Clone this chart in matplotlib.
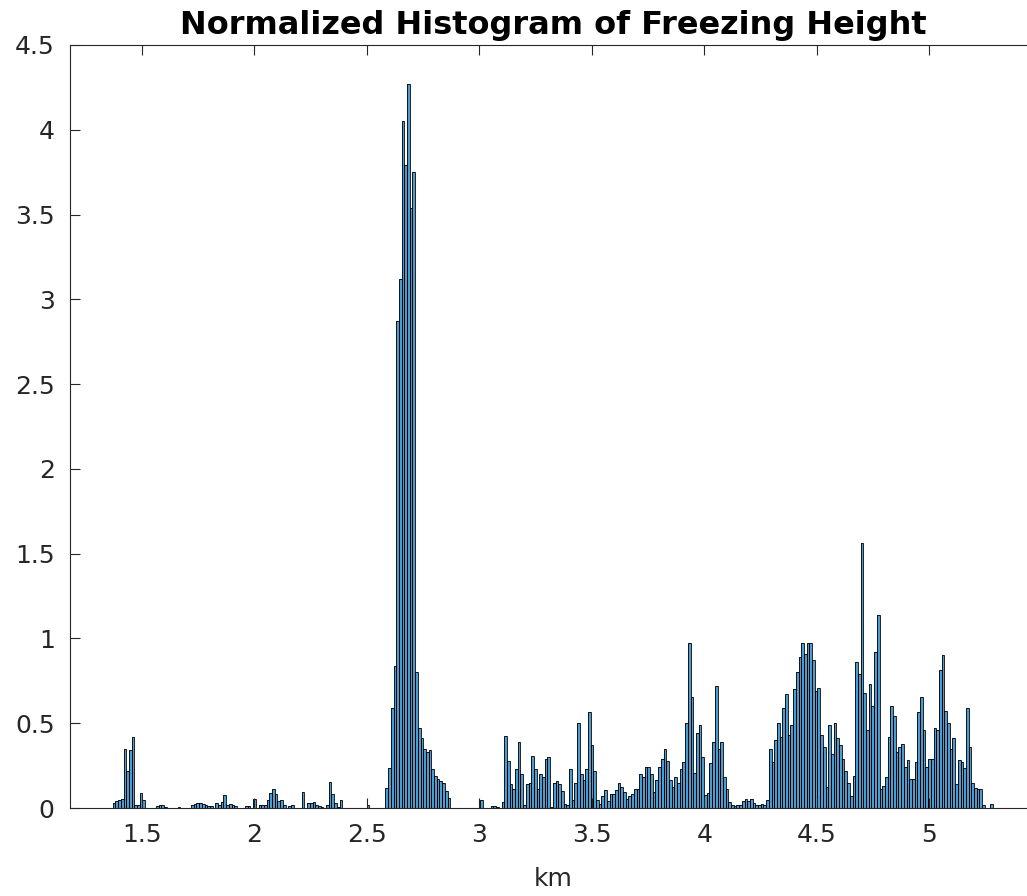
import numpy as np
import matplotlib
matplotlib.use("Agg")
import matplotlib.pyplot as plt
from matplotlib.ticker import FormatStrFormatter

# histogram bins (km)
bin_start = 1.37
bin_width = 0.012

# normalized counts, left to right
dens_low = [
    0.03, 0.04, 0.05, 0.055, 0.35, 0.22, 0.34, 0.42, 0.02, 0.02, 0.09, 0.05,
    0, 0, 0, 0, 0.01, 0.015, 0.015, 0.005, 0, 0, 0, 0, 0.008, 0, 0, 0, 0,
    0.015, 0.025, 0.03, 0.028, 0.025, 0.02, 0.01, 0.01, 0, 0.03, 0.02,
    0.035, 0.075, 0.016, 0.025, 0.02, 0.01, 0, 0, 0, 0.012, 0.012, 0, 0.055, 0,
    0.02, 0.02, 0.02, 0.05, 0.09, 0.11, 0.085, 0.04, 0.045, 0.015, 0,
    0.01, 0.02, 0, 0, 0, 0.095, 0, 0.03, 0.03, 0.035, 0.02, 0.01, 0.005, 0,
    0.02, 0.155, 0.08, 0.03, 0.006, 0.05,
    0, 0, 0, 0, 0, 0, 0, 0, 0, 0.015, 0, 0, 0, 0, 0, 0,
]
dens_peak = [
    0.12, 0.235, 0.59, 0.84, 2.87, 3.12, 4.05, 3.79, 4.27, 3.54, 3.75,
    0.8, 0.47, 0.41, 0.35, 0.33, 0.34, 0.23, 0.19, 0.17, 0.16, 0.15, 0.10, 0.06,
    0, 0, 0, 0, 0, 0, 0, 0, 0, 0, 0, 0.05, 0, 0, 0, 0.012, 0.01, 0.005, 0,
]
dens_mid = [
    0.035, 0.425, 0.275, 0.14, 0.115, 0.23, 0.39, 0.2, 0.015, 0.14, 0.145,
    0.305, 0.23, 0.11, 0.2, 0.18, 0.29, 0.30, 0.005,
    0.145, 0.16, 0.14, 0.10, 0.025, 0.02, 0.23, 0.045, 0.145, 0.5, 0.2, 0.165,
    0.23, 0.565, 0.37, 0.22, 0.05,
    0.025, 0.07, 0.105, 0.04, 0.08, 0.08, 0.105, 0.15, 0.125, 0.095, 0.055,
    0.07, 0.08, 0.115, 0.11, 0.2, 0.18, 0.24, 0.24, 0.2, 0.095, 0.165, 0.24,
    0.29, 0.35, 0.28, 0.165, 0.125, 0.18, 0.15, 0.23, 0.27, 0.5, 0.975, 0.655,
    0.205, 0.44, 0.49, 0.30, 0.075, 0.09, 0.265, 0.39, 0.72, 0.35, 0.39, 0.18,
    0.11, 0.035, 0.015, 0.01, 0.015, 0.015, 0.04, 0.053, 0.04,
    0.055, 0.03, 0.015, 0.02, 0.025, 0.02, 0.05,
]
dens_high = [
    0.35, 0.27, 0.40, 0.50, 0.42, 0.59, 0.67, 0.43, 0.49, 0.70, 0.80, 0.89,
    0.975, 0.91, 0.975, 0.975, 0.87, 0.69, 0.71, 0.43, 0.36, 0.126, 0.49, 0.32,
    0.5, 0.41, 0.37, 0.29, 0.22, 0.15, 0.07, 0.19, 0.86, 0.79, 1.56,
    0.68, 0.46, 0.73, 0.6, 0.92, 1.14, 0.11, 0.13, 0.18, 0.42, 0.6, 0.545,
    0.33, 0.36, 0.38, 0.24, 0.285, 0.17, 0.17, 0.27, 0.565, 0.655, 0.46, 0.24,
    0.29, 0.29, 0.47, 0.46, 0.815, 0.905, 0.57, 0.5, 0.35, 0.41, 0.14, 0.285,
    0.27, 0.235, 0.59, 0.36, 0.15, 0.12, 0.11, 0.11,
    0.015, 0, 0, 0.025,
]

dens = np.array(dens_low + dens_peak + dens_mid + dens_high)
centers = bin_start + bin_width * (np.arange(len(dens)) + 0.5)

fig = plt.figure(figsize=(10.27, 8.96), dpi=100)
ax = fig.add_axes([70 / 1027, 88 / 896, 967 / 1027, 763 / 896])

# MATLAB-like face (default blue, semi-transparent) + thin black edges
ax.bar(centers, dens, width=bin_width, color=(0, 0.447, 0.741), alpha=0.7,
       edgecolor="none")
ax.bar(centers, dens, width=bin_width, fill=False, edgecolor="black",
       linewidth=0.6)

ax.set_xlim(1.18, 1.5 + (1037 - 142) / 225)
ax.set_ylim(0, 4.5)
ax.set_xticks(np.arange(1.5, 5.01, 0.5))
ax.set_yticks(np.arange(0, 4.51, 0.5))
ax.xaxis.set_major_formatter(FormatStrFormatter("%g"))
ax.yaxis.set_major_formatter(FormatStrFormatter("%g"))

axc = (0.15, 0.15, 0.15)
for s in ax.spines.values():
    s.set_color(axc)
    s.set_linewidth(0.8)
ax.tick_params(direction="in", top=True, right=True, length=7, width=0.8,
               color=axc, labelcolor=axc, labelsize=18, pad=11)

ax.set_xlabel("km", fontsize=18, color=axc, labelpad=14)
ax.set_title("Normalized Histogram of Freezing Height", fontsize=23,
             fontweight="bold", pad=8)

fig.savefig("out.png", dpi=100)
